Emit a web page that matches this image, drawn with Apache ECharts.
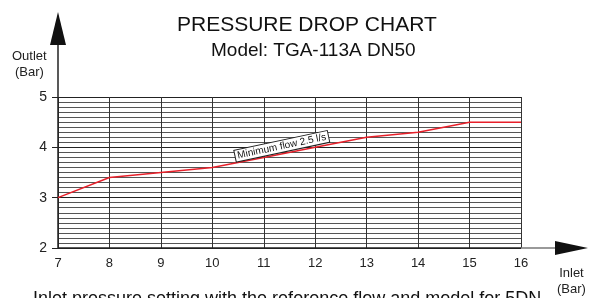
<!DOCTYPE html>
<html>
<head>
<meta charset="utf-8">
<script src="https://cdn.jsdelivr.net/npm/echarts@6/dist/echarts.min.js"></script>
<style>
  html, body { margin: 0; padding: 0; background: #fff; }
  #main { width: 596px; height: 298px; }
</style>
</head>
<body>
<div id="main"></div>
<script>
// inlet pressure (bar) vs outlet pressure (bar)
const inlet = [7, 8, 9, 10, 11, 12, 13, 14, 15, 16];
const outlet = [3.0, 3.4, 3.5, 3.6, 3.8, 4.0, 4.2, 4.3, 4.5, 4.5];
const flowLabel = 'Minimum flow 2.5 l/s';
const labelAt = [11.35, 4.02];

const chart = echarts.init(document.getElementById('main'), null, { renderer: 'canvas' });
const font = 'Liberation Sans, Arial, sans-serif';

const option = {
  animation: false,
  backgroundColor: '#fff',
  textStyle: { fontFamily: font },
  title: [
    { text: 'PRESSURE DROP CHART', left: 172, top: 10,
      textStyle: { fontSize: 21, fontWeight: 'normal', color: '#111', fontFamily: font } },
    { text: 'Model: TGA-113A DN50', left: 206, top: 36,
      textStyle: { fontSize: 19, fontWeight: 'normal', color: '#111', fontFamily: font } }
  ],
  grid: { left: 58, right: 75, top: 97, bottom: 50 },
  xAxis: {
    type: 'value', min: 7, max: 16, interval: 1,
    axisLine: { show: false },
    axisTick: { show: false },
    axisLabel: { color: '#222', fontSize: 13, margin: 9 },
    splitLine: { show: true, lineStyle: { color: '#333', width: 1 } }
  },
  yAxis: {
    type: 'value', min: 2, max: 5, interval: 1,
    axisLine: { show: false },
    axisTick: { show: true, length: 6, lineStyle: { color: '#222' } },
    axisLabel: { color: '#222', fontSize: 14, margin: 11 },
    splitLine: { show: true, lineStyle: { color: '#222', width: 1 } },
    minorTick: { show: false, splitNumber: 10 },
    minorSplitLine: { show: true, lineStyle: { color: '#555', width: 1 } }
  },
  series: [{
    type: 'line',
    data: inlet.map((x, i) => [x, outlet[i]]),
    symbol: 'none',
    lineStyle: { color: '#e8202a', width: 1.5 },
    markPoint: {
      symbol: 'rect', symbolSize: 0,
      data: [{ coord: labelAt, value: flowLabel }],
      label: {
        show: true, formatter: flowLabel, rotate: 12,
        color: '#111', fontSize: 10, fontFamily: font,
        backgroundColor: '#fff', borderColor: '#222', borderWidth: 1,
        padding: [1, 2, 0, 2], position: 'inside'
      }
    }
  }]
};
chart.setOption(option);

// axis arrows and axis captions, placed from the axis scale
const o = chart.convertToPixel({ gridIndex: 0 }, [7, 2]);
const xEnd = chart.convertToPixel({ gridIndex: 0 }, [16, 2]);
const yEnd = chart.convertToPixel({ gridIndex: 0 }, [7, 5]);

chart.setOption({
  graphic: [
    { type: 'line', shape: { x1: o[0], y1: o[1], x2: xEnd[0], y2: o[1] },
      style: { stroke: '#222', lineWidth: 1.5 } },
    { type: 'line', shape: { x1: xEnd[0], y1: o[1], x2: xEnd[0] + 36, y2: o[1] },
      style: { stroke: '#777', lineWidth: 1.5 } },
    { type: 'polygon', shape: { points: [[xEnd[0] + 34, o[1] - 7], [xEnd[0] + 67, o[1]], [xEnd[0] + 34, o[1] + 7]] },
      style: { fill: '#111' } },
    { type: 'line', shape: { x1: o[0], y1: o[1], x2: o[0], y2: yEnd[1] - 54 },
      style: { stroke: '#222', lineWidth: 1.5 } },
    { type: 'polygon', shape: { points: [[o[0] - 8, yEnd[1] - 52], [o[0], yEnd[1] - 85], [o[0] + 8, yEnd[1] - 52]] },
      style: { fill: '#111' } },
    { type: 'text', left: 12, top: 48,
      style: { text: 'Outlet\n(Bar)', fill: '#222', font: '13px ' + font, textAlign: 'center', lineHeight: 16 } },
    { type: 'text', left: 557, top: 265,
      style: { text: 'Inlet\n(Bar)', fill: '#222', font: '13px ' + font, textAlign: 'center', lineHeight: 16 } },
    { type: 'text', left: 22, top: 290,
      style: { text: '· Inlet pressure setting with the reference flow and model for 5DN', fill: '#111', font: '18px ' + font } }
  ]
});
</script>
</body>
</html>
